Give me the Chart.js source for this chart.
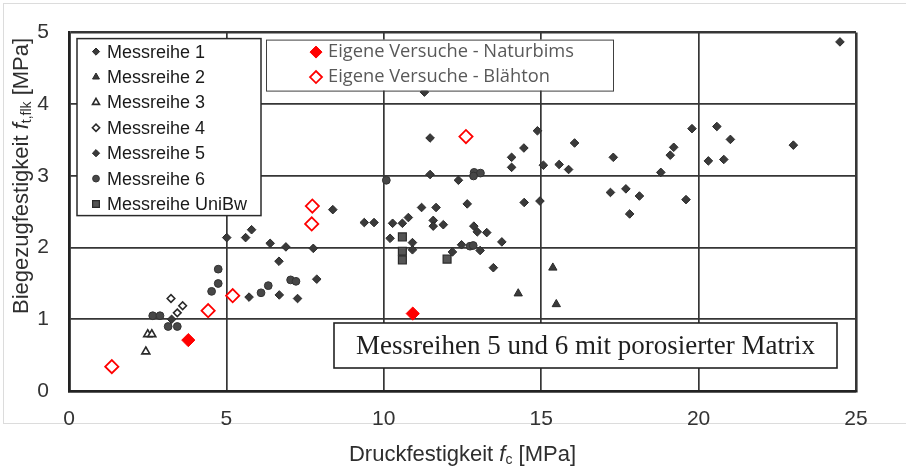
<!DOCTYPE html>
<html>
<head>
<meta charset="utf-8">
<script src="https://cdn.jsdelivr.net/npm/chart.js@4.4.1/dist/chart.umd.min.js"></script>
<style>
  html, body { margin: 0; padding: 0; background: #ffffff; }
  #wrap { position: relative; width: 906px; height: 468px; overflow: hidden; }
  #frame { position: absolute; left: 3px; top: 3px; width: 904px; height: 421px; border: 1px solid #dcdcdc; box-sizing: border-box; }
  #c { position: absolute; left: 0; top: 0; }
</style>
</head>
<body>
<div id="wrap">
  <div id="frame"></div>
  <canvas id="c" width="906" height="468"></canvas>
</div>
<script>
// ---------- data ----------
const xTicks = [0, 5, 10, 15, 20, 25];
const yTicks = [0, 1, 2, 3, 4, 5];

const xAxisTitle = ['Druckfestigkeit ', 'f', 'c', ' [MPa]'];
const yAxisTitle = ['Biegezugfestigkeit ', 'f', 't,flk', ' [MPa]'];
const noteText = 'Messreihen 5 und 6 mit porosierter Matrix';

const labelsSeries = ['Messreihe 1', 'Messreihe 2', 'Messreihe 3', 'Messreihe 4', 'Messreihe 5', 'Messreihe 6', 'Messreihe UniBw'];
const labelsOwn = ['Eigene Versuche - Naturbims', 'Eigene Versuche - Blähton'];

// Messreihe 1 (filled diamonds)
const m1x = [11.29, 11.47, 14.88, 16.06, 14.45, 14.06, 17.29, 14.06, 15.07, 15.57, 15.87, 11.47, 12.37, 17.20, 17.69, 18.12, 17.81, 12.65, 14.46, 14.96, 11.20, 11.66, 10.78, 9.38, 9.69, 10.28, 10.59, 11.57, 11.57, 11.89, 12.86, 12.97, 13.27, 13.75, 10.20, 10.91, 10.91, 12.47, 13.06, 12.18, 13.48, 24.49, 19.79, 20.58, 21.01, 23.01, 19.21, 19.10, 20.31, 20.80, 18.80, 19.60];
const m1y = [4.17, 3.53, 3.63, 3.46, 3.39, 3.26, 3.26, 3.12, 3.15, 3.16, 3.09, 3.02, 2.94, 2.77, 2.82, 2.72, 2.47, 2.61, 2.63, 2.65, 2.56, 2.56, 2.42, 2.35, 2.35, 2.34, 2.34, 2.38, 2.30, 2.32, 2.30, 2.22, 2.21, 2.08, 2.13, 2.07, 1.97, 2.04, 1.96, 1.94, 1.72, 4.87, 3.66, 3.69, 3.51, 3.43, 3.40, 3.29, 3.21, 3.23, 3.05, 2.67];
// Messreihe 2 (filled triangles)
const m2x = [15.37, 14.27, 15.48];
const m2y = [1.72, 1.36, 1.21];
// Messreihe 3 (open triangles)
const m3x = [2.50, 2.63, 2.44];
const m3y = [0.79, 0.79, 0.55];
// Messreihe 4 (open diamonds)
const m4x = [3.24, 3.61, 3.44];
const m4y = [1.29, 1.19, 1.09];
// Messreihe 5 (filled diamonds)
const m5x = [5.01, 5.61, 5.80, 6.39, 6.89, 7.76, 6.67, 7.87, 5.72, 6.68, 7.26, 8.38, 3.26];
const m5y = [2.14, 2.14, 2.25, 2.06, 2.01, 1.99, 1.81, 1.56, 1.31, 1.34, 1.29, 2.53, 1.00];
// Messreihe 6 (filled circles)
const m6x = [2.66, 2.89, 3.15, 3.44, 4.53, 4.74, 4.74, 6.10, 6.33, 7.04, 7.21, 10.08, 12.74, 12.84, 12.87, 13.07, 12.85];
const m6y = [1.05, 1.05, 0.90, 0.90, 1.39, 1.50, 1.70, 1.37, 1.47, 1.55, 1.53, 2.94, 2.02, 2.03, 3.05, 3.04, 3.00];
// Messreihe UniBw (filled squares)
const mux = [10.59, 10.59, 10.59, 12.01];
const muy = [2.15, 1.95, 1.83, 1.84];
// Eigene Versuche - Naturbims (red filled diamonds)
const nbx = [3.79, 10.92];
const nby = [0.71, 1.08];
// Eigene Versuche - Blähton (red open diamonds)
const blx = [1.36, 4.42, 5.20, 7.73, 7.71, 12.61];
const bly = [0.34, 1.12, 1.33, 2.58, 2.33, 3.55];

// ---------- build ----------
const pts = (xs, ys) => xs.map((x, i) => ({ x: x, y: ys[i] }));
const SANS = '"Liberation Sans", Arial, sans-serif';
const DARK = '#3a3a3a';

const datasets = [
  { label: labelsSeries[0], data: pts(m1x, m1y), pointStyle: 'rectRot', pointRadius: 4.3, backgroundColor: DARK, borderColor: '#2a2a2a', borderWidth: 1, box: 1, legendRadius: 3.6 },
  { label: labelsSeries[1], data: pts(m2x, m2y), pointStyle: 'triangle', pointRadius: 4.8, backgroundColor: DARK, borderColor: '#2a2a2a', borderWidth: 1, box: 1, legendRadius: 4 },
  { label: labelsSeries[2], data: pts(m3x, m3y), pointStyle: 'triangle', pointRadius: 4.6, backgroundColor: '#ffffff', borderColor: '#2a2a2a', borderWidth: 1.6, box: 1, legendRadius: 4 },
  { label: labelsSeries[3], data: pts(m4x, m4y), pointStyle: 'rectRot', pointRadius: 3.8, backgroundColor: '#ffffff', borderColor: '#2a2a2a', borderWidth: 1.6, box: 1, legendRadius: 3.6 },
  { label: labelsSeries[4], data: pts(m5x, m5y), pointStyle: 'rectRot', pointRadius: 4.3, backgroundColor: DARK, borderColor: '#2a2a2a', borderWidth: 1, box: 1, legendRadius: 3.6 },
  { label: labelsSeries[5], data: pts(m6x, m6y), pointStyle: 'circle', pointRadius: 3.9, backgroundColor: '#474747', borderColor: '#333333', borderWidth: 1, box: 1, legendRadius: 3.4 },
  { label: labelsSeries[6], data: pts(mux, muy), pointStyle: 'rect', pointRadius: 5.6, backgroundColor: '#555555', borderColor: '#2a2a2a', borderWidth: 1.2, box: 1, legendRadius: 4.8 },
  { label: labelsOwn[0], data: pts(nbx, nby), pointStyle: 'rectRot', pointRadius: 6.6, backgroundColor: '#ff0000', borderColor: '#ff0000', borderWidth: 1, box: 2, legendRadius: 6 },
  { label: labelsOwn[1], data: pts(blx, bly), pointStyle: 'rectRot', pointRadius: 6.6, backgroundColor: '#ffffff', borderColor: '#ff0000', borderWidth: 1.8, box: 2, legendRadius: 6 }
];
datasets.forEach(d => { d.pointHoverRadius = d.pointRadius; d.showLine = false; });

function runsWidth(ctx, runs) {
  let w = 0;
  runs.forEach(r => { ctx.font = r.font; w += ctx.measureText(r.t).width; });
  return w;
}
function drawRuns(ctx, runs, cx, cy) {
  const total = runsWidth(ctx, runs);
  let x = cx - total / 2;
  ctx.textAlign = 'left';
  ctx.textBaseline = 'middle';
  runs.forEach(r => {
    ctx.font = r.font;
    ctx.fillText(r.t, x, cy + (r.dy || 0));
    x += ctx.measureText(r.t).width;
  });
}
function titleRuns(parts, size, subSize) {
  return [
    { t: parts[0], font: size + 'px ' + SANS },
    { t: parts[1], font: 'italic ' + size + 'px ' + SANS },
    { t: parts[2], font: subSize + 'px ' + SANS, dy: 5 },
    { t: parts[3], font: size + 'px ' + SANS }
  ];
}

const overlay = {
  id: 'overlay',
  afterDatasetsDraw(chart) {
    const ctx = chart.ctx;
    const a = chart.chartArea;
    const drawPoint = Chart.helpers.drawPoint;
    ctx.save();

    // legend box 1 (Messreihen)
    const b1 = { x: a.left + 8, y: a.top + 6, w: 184, h: 177 };
    ctx.fillStyle = '#ffffff';
    ctx.fillRect(b1.x, b1.y, b1.w, b1.h);
    ctx.strokeStyle = '#2a2a2a';
    ctx.lineWidth = 1.5;
    ctx.strokeRect(b1.x, b1.y, b1.w, b1.h);
    const g1 = chart.data.datasets.filter(d => d.box === 1);
    g1.forEach((d, i) => {
      const y = b1.y + 13 + i * 25.4;
      ctx.fillStyle = d.backgroundColor;
      ctx.strokeStyle = d.borderColor;
      ctx.lineWidth = d.borderWidth;
      drawPoint(ctx, { pointStyle: d.pointStyle, radius: d.legendRadius, rotation: 0, borderWidth: d.borderWidth }, b1.x + 19, y);
      ctx.fillStyle = '#1a1a1a';
      ctx.font = '18px ' + SANS;
      ctx.textAlign = 'left';
      ctx.textBaseline = 'middle';
      ctx.fillText(d.label, b1.x + 30, y + 1);
    });

    // legend box 2 (eigene Versuche)
    const b2 = { x: 266, y: a.top + 7, w: 347, h: 51 };
    ctx.fillStyle = '#ffffff';
    ctx.fillRect(b2.x, b2.y, b2.w, b2.h);
    ctx.strokeStyle = '#404040';
    ctx.lineWidth = 1;
    ctx.strokeRect(b2.x + 0.5, b2.y + 0.5, b2.w, b2.h);
    const g2 = chart.data.datasets.filter(d => d.box === 2);
    g2.forEach((d, i) => {
      const y = b2.y + 12.5 + i * 25;
      ctx.fillStyle = d.backgroundColor;
      ctx.strokeStyle = d.borderColor;
      ctx.lineWidth = d.borderWidth;
      drawPoint(ctx, { pointStyle: d.pointStyle, radius: d.legendRadius, rotation: 0, borderWidth: d.borderWidth }, b2.x + 50, y);
      ctx.fillStyle = '#595959';
      ctx.font = '18.3px "Open Sans", sans-serif';
      ctx.textAlign = 'left';
      ctx.textBaseline = 'middle';
      ctx.fillText(d.label, b2.x + 62, y);
    });

    // note box
    const nb = { x: 334, y: 323, w: 503, h: 45 };
    ctx.fillStyle = '#ffffff';
    ctx.fillRect(nb.x, nb.y, nb.w, nb.h);
    ctx.strokeStyle = '#222222';
    ctx.lineWidth = 1.6;
    ctx.strokeRect(nb.x, nb.y, nb.w, nb.h);
    ctx.fillStyle = '#1e1e1e';
    ctx.font = '27px "Liberation Serif", "Times New Roman", serif';
    ctx.textAlign = 'center';
    ctx.textBaseline = 'middle';
    ctx.fillText(noteText, nb.x + nb.w / 2, nb.y + nb.h / 2 + 1);

    // axis titles
    ctx.fillStyle = '#2e2e2e';
    drawRuns(ctx, titleRuns(xAxisTitle, 22, 14), (a.left + a.right) / 2, 455);
    ctx.save();
    ctx.translate(22, a.top + 0.4 * (a.bottom - a.top));
    ctx.rotate(-Math.PI / 2);
    drawRuns(ctx, titleRuns(yAxisTitle, 22, 14), 0, 0);
    ctx.restore();

    ctx.restore();
  }
};

const edge = (v, lo, hi) => (v === lo || v === hi);

new Chart(document.getElementById('c'), {
  type: 'scatter',
  data: { datasets: datasets },
  options: {
    responsive: false,
    animation: false,
    devicePixelRatio: 1,
    events: [],
    layout: { padding: { left: 0, right: 50, top: 15, bottom: 0 } },
    plugins: { legend: { display: false }, tooltip: { enabled: false } },
    scales: {
      x: {
        type: 'linear', min: xTicks[0], max: xTicks[xTicks.length - 1],
        afterBuildTicks: s => { s.ticks = xTicks.map(v => ({ value: v })); },
        afterFit: s => { s.height = 77; },
        ticks: { color: '#333333', font: { family: SANS, size: 21 }, padding: 16, maxRotation: 0 },
        grid: { drawTicks: false, color: '#363636', lineWidth: c => edge(c.tick.value, 0, 25) ? 2.6 : 1.7 },
        border: { display: true, color: '#222222', width: 2.6 }
      },
      y: {
        type: 'linear', min: yTicks[0], max: yTicks[yTicks.length - 1],
        afterBuildTicks: s => { s.ticks = yTicks.map(v => ({ value: v })); },
        afterFit: s => { s.width = 69; },
        ticks: { color: '#333333', font: { family: SANS, size: 21 }, padding: 20 },
        grid: { drawTicks: false, color: '#363636', lineWidth: c => edge(c.tick.value, 0, 5) ? 2.6 : 1.7 },
        border: { display: true, color: '#222222', width: 2.6 }
      }
    }
  },
  plugins: [overlay]
});
</script>
</body>
</html>
